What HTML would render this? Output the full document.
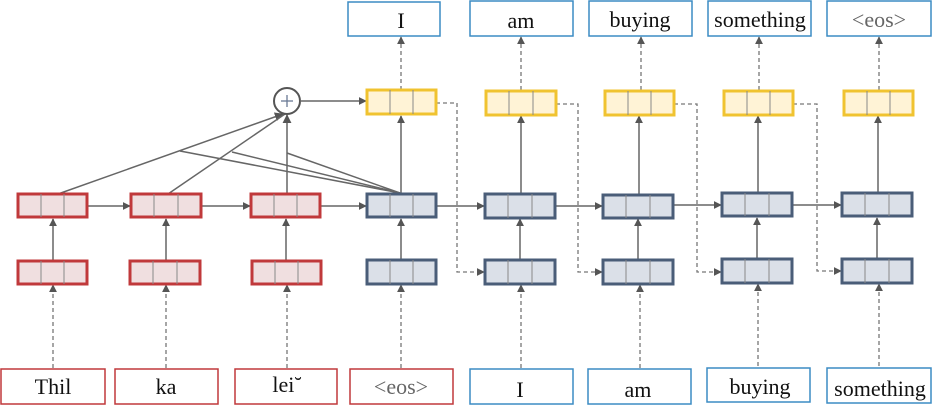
<!DOCTYPE html>
<html><head><meta charset="utf-8"><style>
html,body{margin:0;padding:0;background:#fff;width:932px;height:405px;overflow:hidden}
text{font-family:"Liberation Serif",serif;font-size:22px;text-anchor:middle}
.r rect{fill:#f0dfe0;stroke:#c0393b;stroke-width:3}
.b rect{fill:#dbe0e8;stroke:#4a5d78;stroke-width:3}
.y rect{fill:#fff3d6;stroke:#f0c330;stroke-width:3}
.d{stroke:#888;stroke-width:1}
.a{stroke:#666;stroke-width:1.5;fill:none}
.ds{stroke:#777;stroke-width:1.3;fill:none;stroke-dasharray:4 3}
</style></head><body>
<svg width="932" height="405" viewBox="0 0 932 405" xmlns="http://www.w3.org/2000/svg">
<defs>
<marker id="ar" viewBox="0 0 10 10" refX="9" refY="5" markerWidth="8" markerHeight="8" orient="auto" markerUnits="userSpaceOnUse"><path d="M0,0L10,5L0,10z" fill="#555"/></marker>
<marker id="arw" viewBox="0 0 10 10" refX="9" refY="5" markerWidth="9" markerHeight="9" orient="auto" markerUnits="userSpaceOnUse"><path d="M0,0L10,5L0,10z" fill="#555"/></marker>
</defs>

<g class="a" stroke-width="1.2">
<line x1="58" y1="194" x2="283" y2="114" marker-end="url(#arw)"/>
<line x1="168" y1="194" x2="285" y2="114"/>
<line x1="287" y1="194" x2="287" y2="115" marker-end="url(#arw)"/>
<line x1="400" y1="193" x2="180" y2="151"/>
<line x1="400" y1="193" x2="232" y2="152"/>
<line x1="400" y1="193" x2="287" y2="153"/>
</g>
<circle cx="287" cy="101" r="13" fill="#fff" stroke="#555" stroke-width="2"/>
<line x1="281" y1="101" x2="293" y2="101" stroke="#6a7a95" stroke-width="1.3"/>
<line x1="287" y1="95" x2="287" y2="107" stroke="#6a7a95" stroke-width="1.3"/>
<line class="a" x1="300" y1="101" x2="366" y2="101" marker-end="url(#ar)"/>

<g class="a">
<line x1="87" y1="206" x2="130" y2="206" marker-end="url(#ar)"/>
<line x1="201" y1="206" x2="250" y2="206" marker-end="url(#ar)"/>
<line x1="320" y1="206" x2="366" y2="206" marker-end="url(#ar)"/>
<line x1="436" y1="206" x2="484" y2="206" marker-end="url(#ar)"/>
<line x1="555" y1="206" x2="602" y2="206" marker-end="url(#ar)"/>
<line x1="673" y1="205" x2="721" y2="205" marker-end="url(#ar)"/>
<line x1="792" y1="205" x2="841" y2="205" marker-end="url(#ar)"/>
</g>
<g class="a">
<line x1="53" y1="260" x2="53" y2="219" marker-end="url(#ar)"/>
<line x1="166" y1="260" x2="166" y2="219" marker-end="url(#ar)"/>
<line x1="286" y1="260" x2="286" y2="219" marker-end="url(#ar)"/>
<line x1="401" y1="260" x2="401" y2="219" marker-end="url(#ar)"/>
<line x1="520" y1="260" x2="520" y2="219" marker-end="url(#ar)"/>
<line x1="638" y1="260" x2="638" y2="219" marker-end="url(#ar)"/>
<line x1="757" y1="260" x2="757" y2="218" marker-end="url(#ar)"/>
<line x1="877" y1="260" x2="877" y2="218" marker-end="url(#ar)"/>
<line x1="401" y1="194" x2="401" y2="116" marker-end="url(#ar)"/>
<line x1="521" y1="194" x2="521" y2="116" marker-end="url(#ar)"/>
<line x1="639" y1="194" x2="639" y2="116" marker-end="url(#ar)"/>
<line x1="758" y1="193" x2="758" y2="116" marker-end="url(#ar)"/>
<line x1="878" y1="193" x2="878" y2="116" marker-end="url(#ar)"/>
</g>
<g class="ds">
<line x1="401" y1="90" x2="401" y2="37" marker-end="url(#ar)"/>
<line x1="521" y1="90" x2="521" y2="37" marker-end="url(#ar)"/>
<line x1="641" y1="90" x2="641" y2="37" marker-end="url(#ar)"/>
<line x1="759" y1="90" x2="759" y2="37" marker-end="url(#ar)"/>
<line x1="879" y1="90" x2="879" y2="37" marker-end="url(#ar)"/>
<line x1="53" y1="368" x2="53" y2="285" marker-end="url(#ar)"/>
<line x1="166" y1="368" x2="166" y2="285" marker-end="url(#ar)"/>
<line x1="287" y1="368" x2="287" y2="285" marker-end="url(#ar)"/>
<line x1="401" y1="368" x2="401" y2="285" marker-end="url(#ar)"/>
<line x1="521" y1="368" x2="521" y2="285" marker-end="url(#ar)"/>
<line x1="640" y1="368" x2="640" y2="285" marker-end="url(#ar)"/>
<line x1="758" y1="366" x2="758" y2="284" marker-end="url(#ar)"/>
<line x1="879" y1="366" x2="879" y2="284" marker-end="url(#ar)"/>
<polyline points="436,103 457,103 457,272 484,272" marker-end="url(#ar)"/>
<polyline points="556,104 578,104 578,272 602,272" marker-end="url(#ar)"/>
<polyline points="674,104 697,104 697,272 721,272" marker-end="url(#ar)"/>
<polyline points="793,104 817,104 817,271 841,271" marker-end="url(#ar)"/>
</g>

<g class="r">
<rect x="18" y="194" width="69" height="23"/><rect x="131" y="194" width="70" height="23"/><rect x="251" y="194" width="69" height="23"/>
<rect x="18" y="261" width="69" height="23"/><rect x="130" y="261" width="70" height="23"/><rect x="252" y="261" width="69" height="23"/>
</g>
<g class="b">
<rect x="367" y="194" width="69" height="23"/><rect x="485" y="194" width="70" height="24"/><rect x="603" y="195" width="70" height="23"/><rect x="722" y="193" width="70" height="23"/><rect x="842" y="193" width="70" height="23"/>
<rect x="367" y="260" width="69" height="24"/><rect x="485" y="260" width="70" height="24"/><rect x="603" y="260" width="70" height="24"/><rect x="722" y="259" width="70" height="24"/><rect x="842" y="259" width="70" height="24"/>
</g>
<g class="y">
<rect x="367" y="90" width="69" height="24"/><rect x="486" y="91" width="70" height="24"/><rect x="605" y="91" width="69" height="24"/><rect x="724" y="91" width="69" height="24"/><rect x="844" y="91" width="69" height="24"/>
</g>
<g class="d">
<path d="M41,194v23M64,194v23M154,194v23M178,194v23M274,194v23M297,194v23
M41,261v23M64,261v23M153,261v23M177,261v23M275,261v23M298,261v23
M390,194v23M413,194v23M508,194v24M532,194v24M626,195v23M650,195v23M745,193v23M769,193v23M865,193v23M889,193v23
M390,260v24M413,260v24M508,260v24M532,260v24M626,260v24M650,260v24M745,259v24M769,259v24M865,259v24M889,259v24
M390,90v24M413,90v24M509,91v24M533,91v24M628,91v24M651,91v24M747,91v24M770,91v24M867,91v24M890,91v24"/>
</g>

<g fill="#fff" stroke="#3b8cc4" stroke-width="1.5">
<rect x="348" y="2" width="92" height="34"/><rect x="470" y="1" width="103" height="35"/><rect x="589" y="1" width="103" height="35"/><rect x="708" y="1" width="103" height="35"/><rect x="827" y="1" width="104" height="35"/>
<rect x="470" y="369" width="103" height="35"/><rect x="588" y="369" width="103" height="35"/><rect x="707" y="368" width="103" height="34"/><rect x="827" y="368" width="104" height="35"/>
</g>
<g fill="#fff" stroke="#c0393b" stroke-width="1.5">
<rect x="1" y="369" width="104" height="35"/><rect x="115" y="369" width="103" height="35"/><rect x="235" y="369" width="102" height="35"/><rect x="350" y="369" width="103" height="35"/>
</g>
<g fill="#111">
<text x="401" y="28">I</text><text x="521" y="28">am</text><text x="640" y="27">buying</text><text x="760" y="27">something</text><text x="879" y="27" fill="#666">&lt;eos&gt;</text>
<text x="53" y="394">Thil</text><text x="166" y="394">ka</text><text x="287" y="392">lei˘</text><text x="401" y="394" fill="#666">&lt;eos&gt;</text>
<text x="520" y="397">I</text><text x="638" y="397">am</text><text x="760" y="394">buying</text><text x="880" y="396">something</text>
</g>
</svg>
</body></html>
